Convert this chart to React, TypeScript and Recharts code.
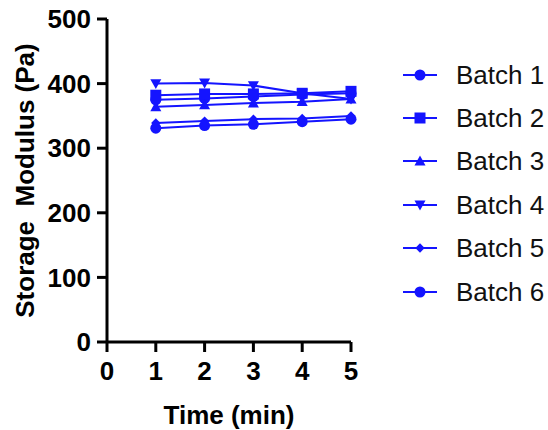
import { LineChart, Line, XAxis, YAxis, Label } from 'recharts'

const times = [1, 2, 3, 4, 5]
const batch1 = [375, 377, 380, 383, 385]
const batch2 = [382, 384, 384, 385, 388]
const batch3 = [364, 367, 370, 372, 376]
const batch4 = [400, 401, 397, 385, 376]
const batch5 = [339, 342, 345, 346, 350]
const batch6 = [331, 335, 337, 341, 345]
const xTicks = [0, 1, 2, 3, 4, 5]
const yTicks = [0, 100, 200, 300, 400, 500]

const BLUE = '#1414ff'
const FONT = '"Liberation Sans", Arial, sans-serif'

type Shape = 'circle' | 'square' | 'up' | 'down' | 'diamond'

const series: { key: string; name: string; values: number[]; shape: Shape }[] = [
  { key: 'b1', name: 'Batch 1', values: batch1, shape: 'circle' },
  { key: 'b2', name: 'Batch 2', values: batch2, shape: 'square' },
  { key: 'b3', name: 'Batch 3', values: batch3, shape: 'up' },
  { key: 'b4', name: 'Batch 4', values: batch4, shape: 'down' },
  { key: 'b5', name: 'Batch 5', values: batch5, shape: 'diamond' },
  { key: 'b6', name: 'Batch 6', values: batch6, shape: 'circle' },
]

const data = times.map((t, i) => {
  const row: Record<string, number> = { time: t }
  for (const s of series) row[s.key] = s.values[i]
  return row
})

function Marker({ cx, cy, shape, size = 5.5 }: { cx: number; cy: number; shape: Shape; size?: number }) {
  const s = size
  if (shape === 'circle') return <circle cx={cx} cy={cy} r={s} fill={BLUE} />
  if (shape === 'square') return <rect x={cx - s} y={cy - s} width={s * 2} height={s * 2} fill={BLUE} />
  if (shape === 'up')
    return <polygon points={`${cx},${cy - s} ${cx + s},${cy + s * 0.8} ${cx - s},${cy + s * 0.8}`} fill={BLUE} />
  if (shape === 'down')
    return <polygon points={`${cx - s},${cy - s * 0.8} ${cx + s},${cy - s * 0.8} ${cx},${cy + s}`} fill={BLUE} />
  const d = s * 0.85
  return <polygon points={`${cx},${cy - d} ${cx + d},${cy} ${cx},${cy + d} ${cx - d},${cy}`} fill={BLUE} />
}

function LegendBox() {
  return (
    <div style={{ position: 'absolute', left: 401, top: 53, fontFamily: FONT, fontSize: 26, color: '#111' }}>
      {series.map((s) => (
        <div key={s.key} style={{ display: 'flex', alignItems: 'center', height: 43.4 }}>
          <svg width={38} height={20} style={{ marginRight: 17 }}>
            <line x1={2} y1={10} x2={36} y2={10} stroke={BLUE} strokeWidth={2} />
            <Marker cx={19} cy={10} shape={s.shape} size={5.5} />
          </svg>
          <span style={{ lineHeight: 1 }}>{s.name}</span>
        </div>
      ))}
    </div>
  )
}

export default function App() {
  return (
    <div style={{ position: 'absolute', left: 0, top: 0, width: 548, height: 430, background: '#fff' }}>
      <LineChart
        width={548}
        height={430}
        data={data}
        margin={{ top: 19, right: 197, left: 0, bottom: 0 }}
        style={{ fontFamily: FONT }}
      >
        <XAxis
          dataKey="time"
          type="number"
          domain={[0, 5]}
          ticks={xTicks}
          height={88}
          stroke="#000"
          strokeWidth={3}
          tickSize={10}
          tickMargin={10}
          tick={{ fill: '#000', fontSize: 26, fontWeight: 'bold' }}
        >
          <Label value="Time (min)" position="insideBottom" offset={6} fill="#000" fontSize={26} fontWeight="bold" />
        </XAxis>
        <YAxis
          type="number"
          domain={[0, 500]}
          ticks={yTicks}
          width={107}
          stroke="#000"
          strokeWidth={3}
          tickSize={10}
          tickMargin={6}
          tick={{ fill: '#000', fontSize: 26, fontWeight: 'bold' }}
        >
          <Label
            value={'Storage\u00a0\u00a0Modulus (Pa)'}
            angle={-90}
            position="insideLeft"
            offset={25}
            style={{ textAnchor: 'middle' }}
            fill="#000"
            fontSize={26}
            fontWeight="bold"
          />
        </YAxis>
        {series.map((s) => (
          <Line
            key={s.key}
            dataKey={s.key}
            name={s.name}
            stroke={BLUE}
            strokeWidth={2}
            isAnimationActive={false}
            dot={(p: any) => <Marker key={`${s.key}-${p.index}`} cx={p.cx} cy={p.cy} shape={s.shape} />}
            activeDot={false}
          />
        ))}
      </LineChart>
      <LegendBox />
    </div>
  )
}
